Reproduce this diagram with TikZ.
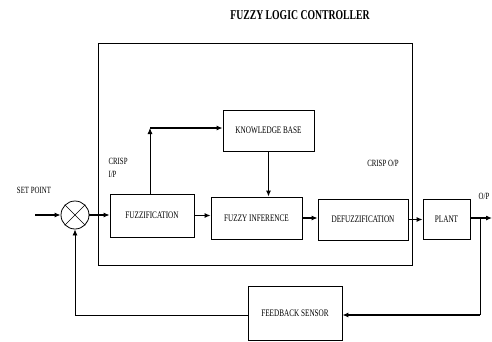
\documentclass[tikz,border=0pt]{standalone}
\usepackage{fontspec}
\setmainfont[FakeStretch=0.72]{Liberation Serif}
\usetikzlibrary{arrows.meta}
\tikzset{
  blockbox/.style={draw, line width=0.8pt, inner sep=0pt, font=\fontsize{10}{11}\selectfont},
  tag/.style={inner sep=0pt, font=\fontsize{9.5}{13}\selectfont}
}
\begin{document}
\begin{tikzpicture}[x=1pt, y=-1pt, >={Latex[length=6pt,width=5pt]}, line width=1.1pt]
    \useasboundingbox (0,0) rectangle (492,341);

    % Title and controller frame
    \node[font=\fontsize{13.5}{15}\selectfont\bfseries] (title) at (300,15) {FUZZY LOGIC CONTROLLER};
    \draw[line width=0.8pt] (98,43) rectangle (412,265);

    % Blocks
    \node[blockbox, minimum width=91pt, minimum height=41pt] (kb) at (268.5,130.5) {KNOWLEDGE BASE};
    \node[blockbox, minimum width=84pt, minimum height=43pt] (fuzz) at (152,215.5) {FUZZIFICATION};
    \node[blockbox, minimum width=91pt, minimum height=42pt] (fi) at (256.5,218) {FUZZY INFERENCE};
    \node[blockbox, minimum width=90pt, minimum height=41pt] (defuz) at (363,219.5) {DEFUZZIFICATION};
    \node[blockbox, minimum width=47pt, minimum height=40pt] (plant) at (446.5,219) {PLANT};
    \node[blockbox, minimum width=94pt, minimum height=54pt] (sensor) at (295,313) {FEEDBACK SENSOR};

    % Summing junction
    \node[draw, circle, line width=0.8pt, minimum size=28pt, inner sep=0pt] (sum) at (75,215) {};
    \draw[line width=0.5pt] (sum.north west) -- (sum.south east);
    \draw[line width=0.5pt] (sum.north east) -- (sum.south west);

    % Labels
    \node[tag] (sp) at (34,190) {SET POINT};
    \node[tag, anchor=west, align=left] (cin) at (108,168) {CRISP\\I/P};
    \node[tag] (cout) at (383,163) {CRISP O/P};
    \node[tag] (op) at (484,196) {O/P};

    % Signal path
    \coordinate (in) at (35,215);
    \coordinate (out) at (492,218);
    \coordinate (tap) at (480,218);
    \coordinate (bend) at (480,315);
    \draw[->] (in) -- (sum.west);
    \draw[->] (sum.east) -- (fuzz.west |- sum.east);
    \draw[->, line width=0.8pt] (fuzz.north -| 150,0) -- (150,128);
    \draw[->, line width=2pt] (150,128) -- (kb.west |- 0,128);
    \draw[->] (kb.south) -- (kb.south |- fi.north);
    \draw[->] (fuzz.east) -- (fi.west |- fuzz.east);
    \draw[->] (fi.east) -- (defuz.west |- fi.east);
    \draw[->] (defuz.east) -- (plant.west |- defuz.east);
    \draw[->] (plant.east |- out) -- (out);

    % Feedback loop
    \draw[line width=0.8pt] (tap) -- (bend);
    \draw[->, line width=2pt] (bend) -- (sensor.east |- bend);
    \draw[->, line width=0.8pt] (sensor.west |- bend) -- (sum.south |- bend) -- (sum.south);
\end{tikzpicture}
\end{document}
